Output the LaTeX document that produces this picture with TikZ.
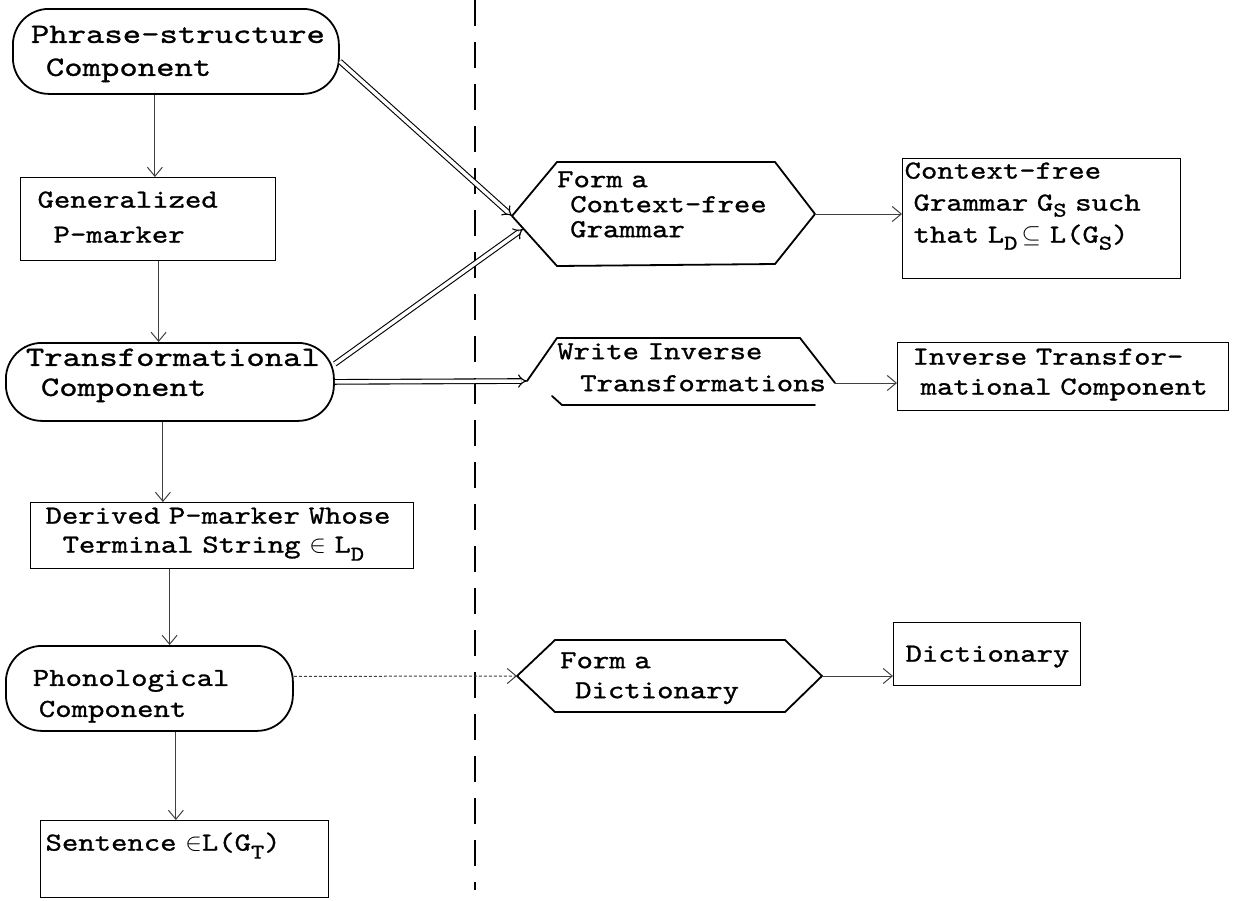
\documentclass[tikz,border=0pt]{standalone}
\usepackage{fontspec}
\usetikzlibrary{arrows.meta}
\newfontfamily\tw{lmmono10-regular.otf}[FakeStretch=1.2,FakeBold=1]
\newfontfamily\tww{lmmono10-regular.otf}[FakeStretch=1.25,FakeBold=1]
\newcommand\lo[2]{\raisebox{#1}{\fontsize{21}{21}\selectfont #2}}
\begin{document}
\begin{tikzpicture}[x=1pt,y=-1pt,
  tx/.style={font=\tw\fontsize{26}{30}\selectfont, align=left, inner ysep=0pt},
  geo/.style n args={4}{inner xsep=#1pt, text width=#2pt, text height=#3pt, text depth=#4pt},
  rbox/.style={tx, draw, line width=1.2pt, anchor=north west},
  term/.style={tx, draw, line width=1.8pt, rounded corners=36pt, anchor=north west},
  htext/.style={tx, anchor=north west, inner sep=0pt, text width=280pt, text height=20pt},
  hexl/.style={line width=1.8pt, line join=round, line cap=round},
  flow/.style={line width=1pt, black!75, -{Straight Barb[length=9pt,width=15pt]}},
  dbl/.style={line width=1.1pt, double, double distance=3.5pt, -{Implies}},
  sepline/.style={line width=1.4pt, dash pattern=on 26pt off 16pt}
]
\fill[white] (0,0) rectangle (1241,900);
\useasboundingbox (0,0) rectangle (1241,900);

% left column
\node[term, geo={18}{290}{34}{51}, font=\tww\fontsize{28}{33}\selectfont] (ps) at (12,8)
  {\mbox{Phrase-structure}\\\hspace*{15pt}Component};
\node[rbox, geo={17}{221}{30}{53}, font=\tw\fontsize{26}{35}\selectfont] (gen) at (20,177)
  {Generalized\\\hspace*{16pt}P-marker};
\node[term, geo={20}{288}{23}{55}, font=\tww\fontsize{28}{30}\selectfont] (trans) at (5,342)
  {\mbox{Transformational}\\\hspace*{15pt}Component};
\node[rbox, geo={15}{353}{21}{45}, font=\tw\fontsize{26}{29}\selectfont] (der) at (30,502)
  {\mbox{Derived P-marker Whose}\\\hspace*{17pt}\mbox{Terminal String $\in$ L\lo{-8pt}{D}}};
\node[term, geo={27}{233}{40}{45}, font=\tw\fontsize{26}{31}\selectfont] (pho) at (5,645)
  {Phonological\\\hspace*{6pt}Component};
\node[rbox, geo={5}{278}{30}{47}] (sen) at (40,820)
  {\mbox{Sentence $\in$L(G\lo{-8pt}{T})}};

% right column boxes
\node[rbox, geo={2}{274}{20}{100}, font=\tw\fontsize{26}{32}\selectfont] (cfg) at (902,158)
  {Context-free\\\hspace*{9pt}\mbox{Grammar G\lo{-6pt}{S} such}\\\hspace*{9pt}\mbox{that L\lo{-7pt}{D}\,$\subseteq$\ L(G\lo{-7pt}{S})}};
\node[rbox, geo={15}{301}{22}{46}] (inv) at (897,342)
  {\mbox{Inverse Transfor-}\\\hspace*{8pt}\mbox{mational Component}};
\node[rbox, geo={12}{163}{39}{24}] (dic) at (893,622)
  {\mbox{Dictionary}};

% hexagon texts
\node[htext, font=\tw\fontsize{26}{25}\selectfont] (f1) at (557,167)
  {Form a\\\hspace*{13pt}Context-free\\\hspace*{13pt}Grammar};
\node[htext, font=\tw\fontsize{26}{32}\selectfont] (wri) at (557,339)
  {Write Inverse\\\hspace*{23pt}Transformations};
\node[htext, font=\tw\fontsize{26}{30}\selectfont] (fd) at (560,648)
  {Form a\\\hspace*{15pt}Dictionary};

% hexagon outlines
\coordinate (f1L) at (512,216);
\coordinate (f1Lb) at (523,229);
\coordinate (f1R) at (815,214);
\draw[hexl] (557,162) -- (775,162) -- (f1R) -- (775,264) -- (557,266) -- (f1L) -- cycle;
\coordinate (wL) at (527,381);
\coordinate (wR) at (835,383);
\draw[hexl] (wL) -- (557,338) -- (800,338) -- (wR);
\draw[hexl] (552,396) -- (562,405) -- (815,405);
\coordinate (dL) at (517,676);
\coordinate (dR) at (822,676);
\draw[hexl] (555,640) -- (785,640) -- (dR) -- (785,712) -- (555,712) -- (dL) -- cycle;

% separator
\draw[sepline] (475,0) -- (475,890);

% vertical flow
\draw[flow] ([xshift=-21pt]ps.south) -- ([xshift=-21pt]ps.south |- gen.north);
\draw[flow] ([xshift=10.5pt]gen.south) -- ([xshift=10.5pt]gen.south |- trans.north);
\draw[flow] ([xshift=-7pt]trans.south) -- ([xshift=-7pt]trans.south |- der.north);
\draw[flow] ([xshift=-52.5pt]der.south) -- ([xshift=-52.5pt]der.south |- pho.north);
\draw[flow] ([xshift=26.5pt]pho.south) -- ([xshift=26.5pt]pho.south |- sen.north);

% double arrows
\draw[dbl] ([yshift=-10pt]ps.east) -- (f1L);
\draw[dbl] ([yshift=18pt]trans.east) -- (f1Lb);
\draw[dbl] (trans.east) -- (wL);

% horizontal arrows
\draw[flow] (f1R) -- (f1R -| cfg.west);
\draw[flow] (wR) -- (wR -| inv.west);
\draw[flow] (dR) -- (dR -| dic.west);
\draw[flow, densely dashed] ([yshift=12pt]pho.east) -- (dL);
\end{tikzpicture}
\end{document}
